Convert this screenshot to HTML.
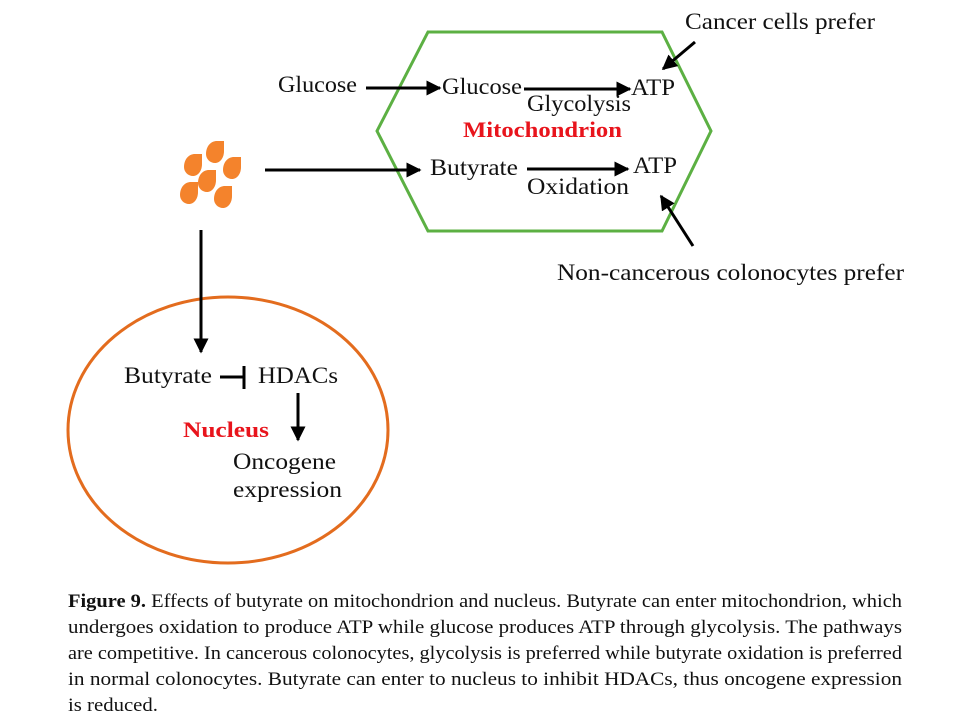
<!DOCTYPE html>
<html><head><meta charset="utf-8"><style>
html,body{margin:0;padding:0;background:#fff;}
svg{display:block;font-family:"Liberation Serif",serif;}
</style></head><body>
<svg width="972" height="726" viewBox="0 0 972 726" xmlns="http://www.w3.org/2000/svg">
<defs>
<marker id="a" viewBox="0 0 10 10" refX="9" refY="5" markerWidth="5" markerHeight="5" orient="auto"><path d="M0,0 L10,5 L0,10 z" fill="#000"/></marker>
<g id="d"><path d="M2,-12 L9,-12 L9,-2 C9,5 5,10 0,10 C-5,10 -9,6 -9,1 C-9,-7 -4,-12 2,-12 Z" fill="#f4832c"/></g>
</defs>
<polygon points="428,32 662,32 711,131 662,231 428,231 377,131" fill="none" stroke="#5cb043" stroke-width="3"/>
<ellipse cx="228" cy="430" rx="160" ry="133" fill="none" stroke="#e36c1e" stroke-width="3"/>
<use href="#d" x="215" y="153"/><use href="#d" x="193" y="166"/><use href="#d" x="232" y="169"/>
<use href="#d" x="207" y="182"/><use href="#d" x="189" y="194"/><use href="#d" x="223" y="198"/>
<g stroke="#000" stroke-width="3" fill="none">
<line x1="366" y1="88" x2="440" y2="88" marker-end="url(#a)"/>
<line x1="524" y1="89" x2="630" y2="89" marker-end="url(#a)"/>
<line x1="265" y1="170" x2="420" y2="170" marker-end="url(#a)"/>
<line x1="527" y1="169" x2="628" y2="169" marker-end="url(#a)"/>
<line x1="695" y1="42" x2="663" y2="69" marker-end="url(#a)"/>
<line x1="693" y1="246" x2="661" y2="196" marker-end="url(#a)"/>
<line x1="201" y1="230" x2="201" y2="352" marker-end="url(#a)"/>
<line x1="220" y1="377" x2="243" y2="377"/>
<line x1="244" y1="366" x2="244" y2="389"/>
<line x1="298" y1="393" x2="298" y2="440" marker-end="url(#a)"/>
</g>
<g font-size="23" fill="#111" lengthAdjust="spacingAndGlyphs">
<text x="685" y="29" textLength="190" lengthAdjust="spacingAndGlyphs">Cancer cells prefer</text>
<text x="278" y="92" textLength="79" lengthAdjust="spacingAndGlyphs">Glucose</text>
<text x="442" y="94" textLength="80" lengthAdjust="spacingAndGlyphs">Glucose</text>
<text x="631" y="95" textLength="44" lengthAdjust="spacingAndGlyphs">ATP</text>
<text x="527" y="111" textLength="104" lengthAdjust="spacingAndGlyphs">Glycolysis</text>
<text x="430" y="175" textLength="88" lengthAdjust="spacingAndGlyphs">Butyrate</text>
<text x="633" y="173" textLength="44" lengthAdjust="spacingAndGlyphs">ATP</text>
<text x="527" y="194" textLength="102" lengthAdjust="spacingAndGlyphs">Oxidation</text>
<text x="557" y="280" textLength="347" lengthAdjust="spacingAndGlyphs">Non-cancerous colonocytes prefer</text>
<text x="124" y="383" textLength="88" lengthAdjust="spacingAndGlyphs">Butyrate</text>
<text x="258" y="383" textLength="80" lengthAdjust="spacingAndGlyphs">HDACs</text>
<text x="233" y="469" textLength="103" lengthAdjust="spacingAndGlyphs">Oncogene</text>
<text x="233" y="497" textLength="109" lengthAdjust="spacingAndGlyphs">expression</text>
</g>
<text x="463" y="137" font-size="22" font-weight="bold" fill="#e8141c" textLength="159" lengthAdjust="spacingAndGlyphs">Mitochondrion</text>
<text x="183" y="437" font-size="22" font-weight="bold" fill="#e8141c" textLength="86" lengthAdjust="spacingAndGlyphs">Nucleus</text>
<g font-size="19" fill="#111">
<text x="68" y="607" textLength="834" lengthAdjust="spacingAndGlyphs"><tspan font-weight="bold">Figure 9.</tspan> Effects of butyrate on mitochondrion and nucleus. Butyrate can enter mitochondrion, which</text>
<text x="68" y="633" textLength="834" lengthAdjust="spacingAndGlyphs">undergoes oxidation to produce ATP while glucose produces ATP through glycolysis. The pathways</text>
<text x="68" y="659" textLength="834" lengthAdjust="spacingAndGlyphs">are competitive. In cancerous colonocytes, glycolysis is preferred while butyrate oxidation is preferred</text>
<text x="68" y="685" textLength="834" lengthAdjust="spacingAndGlyphs">in normal colonocytes. Butyrate can enter to nucleus to inhibit HDACs, thus oncogene expression</text>
<text x="68" y="711" textLength="90" lengthAdjust="spacingAndGlyphs">is reduced.</text>
</g>
</svg>
</body></html>
